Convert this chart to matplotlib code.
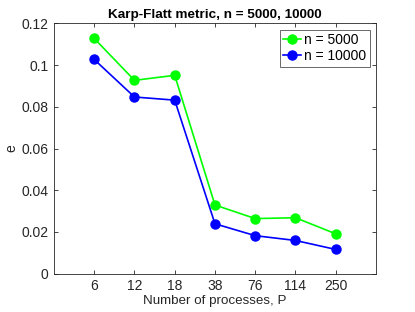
import matplotlib.pyplot as plt
import numpy as np

plt.rcParams['font.family'] = ['Liberation Sans', 'DejaVu Sans']

procs = ['6', '12', '18', '38', '76', '114', '250']
e_5000 = [0.1128, 0.0927, 0.0951, 0.0329, 0.0264, 0.0268, 0.0191]
e_10000 = [0.1027, 0.0847, 0.0832, 0.0239, 0.0182, 0.0159, 0.0116]

x = np.arange(1, len(procs) + 1)

fig = plt.figure(figsize=(4.15, 3.12), dpi=100)
ax = fig.add_axes([0.130, 0.123, 0.776, 0.802])

ax.plot(x, e_5000, '-o', color=(0, 1, 0), lw=1.2, ms=6.5, label='n = 5000')
ax.plot(x, e_10000, '-o', color=(0, 0, 1), lw=1.2, ms=6.5, label='n = 10000')

ax.set_xlim(0, 8)
ax.set_ylim(0, 0.12)
ax.set_xticks(x)
ax.set_xticklabels(procs)
ax.set_yticks([0, 0.02, 0.04, 0.06, 0.08, 0.1, 0.12])
ax.set_yticklabels(['0', '0.02', '0.04', '0.06', '0.08', '0.1', '0.12'])

gray = (0.15, 0.15, 0.15)
ax.tick_params(direction='in', top=True, right=True, labelsize=10,
               colors=gray, length=3, width=0.6, pad=4)
for s in ax.spines.values():
    s.set_color(gray)
    s.set_linewidth(0.6)

ax.set_xlabel('Number of processes, P', fontsize=9.6, color=gray, labelpad=1)
ax.set_ylabel('e', fontsize=10, color=gray, labelpad=2)
ax.set_title('Karp-Flatt metric, n = 5000, 10000', fontsize=9.7, fontweight='bold', pad=4)

leg = ax.legend(loc='upper right', fontsize=10, frameon=True, fancybox=False,
                handlelength=1.3, handletextpad=0.2, borderpad=0.25,
                labelspacing=0.15, borderaxespad=0.45)
leg.get_frame().set_edgecolor(gray)
leg.get_frame().set_linewidth(0.6)

fig.savefig('out.png', dpi=100)
